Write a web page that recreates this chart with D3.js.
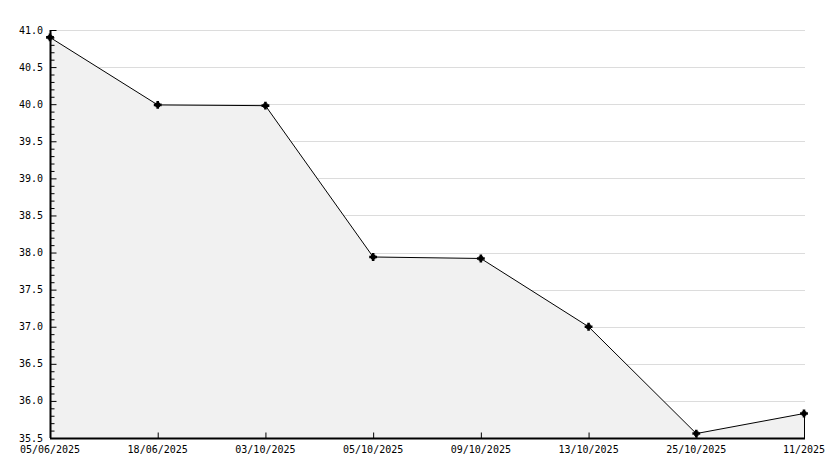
<!DOCTYPE html>
<html>
<head>
<meta charset="utf-8">
<script src="https://cdn.jsdelivr.net/npm/d3@7"></script>
<style>
  body { margin: 0; background: #fff; }
  text { font-family: "DejaVu Sans Mono", monospace; font-size: 10px; fill: #000; }
</style>
</head>
<body>
<div id="chart"></div>
<script>
// data
const dates = ["05/06/2025", "18/06/2025", "03/10/2025", "05/10/2025", "09/10/2025", "13/10/2025", "25/10/2025", "11/2025"];
const values = [40.9, 39.99, 39.98, 37.94, 37.92, 37.0, 35.56, 35.83];
const yTicks = [35.5, 36.0, 36.5, 37.0, 37.5, 38.0, 38.5, 39.0, 39.5, 40.0, 40.5, 41.0];

const width = 834, height = 468;
const margin = {top: 30, right: 29, bottom: 30, left: 50};

let svg = d3.select("#chart").append("svg")
    .attr("width", width)
    .attr("height", height);

let x = d3.scalePoint()
    .domain(dates)
    .range([margin.left, width - margin.right - 1]);

let y = d3.scaleLinear()
    .domain([35.5, 41.0])
    .range([height - margin.bottom, margin.top]);

let data = dates.map((d, i) => ({date: d, value: values[i]}));

// grid
svg.append("g")
    .selectAll("line")
    .data(yTicks.slice(1))
    .enter()
    .append("line")
    .attr("x1", margin.left)
    .attr("x2", width - margin.right)
    .attr("y1", d => Math.round(y(d)) + 0.5)
    .attr("y2", d => Math.round(y(d)) + 0.5)
    .attr("stroke", "#dcdcdc")
    .attr("stroke-width", 1);

// area
let area = d3.area()
    .x(d => x(d.date))
    .y0(y(35.5))
    .y1(d => y(d.value));

svg.append("path")
    .datum(data)
    .attr("d", area)
    .attr("fill", "#f1f1f1")
    .attr("stroke", "none");

// right edge of the area
svg.append("line")
    .attr("x1", x(dates[dates.length - 1]) + 0.5)
    .attr("x2", x(dates[dates.length - 1]) + 0.5)
    .attr("y1", y(values[values.length - 1]))
    .attr("y2", y(35.5))
    .attr("stroke", "#000");

// line
let line = d3.line()
    .x(d => x(d.date))
    .y(d => y(d.value));

svg.append("path")
    .datum(data)
    .attr("d", line)
    .attr("fill", "none")
    .attr("stroke", "#000")
    .attr("stroke-width", 1);

// markers (small star-ish blobs)
let markers = svg.append("g")
    .selectAll("g")
    .data(data)
    .enter()
    .append("g")
    .attr("transform", d => `translate(${x(d.date)},${y(d.value)})`);

markers.append("path")
    .attr("d", d3.symbol().type(d3.symbolSquare).size(20))
    .attr("fill", "#000");
markers.append("path")
    .attr("d", d3.symbol().type(d3.symbolCross).size(34))
    .attr("fill", "#000");

// y axis
let yAxis = d3.axisRight(y)
    .tickValues(d3.range(355, 411, 1).map(v => v / 10))
    .tickSize(4)
    .tickFormat("");

let yg = svg.append("g")
    .attr("transform", `translate(${margin.left + 0.5},0)`)
    .call(yAxis);
yg.select(".domain").attr("stroke", "#000").attr("stroke-width", 2)
    .attr("d", `M0,${margin.top}V${height - margin.bottom}`);
yg.selectAll(".tick line").attr("stroke", "#000").attr("stroke-width", 1)
    .attr("x2", d => (Math.round(d * 10) % 5 === 0) ? 6 : 4);

svg.append("g")
    .selectAll("text")
    .data(yTicks)
    .enter()
    .append("text")
    .attr("x", margin.left - 7)
    .attr("y", d => y(d))
    .attr("dy", "0.35em")
    .attr("text-anchor", "end")
    .text(d => d.toFixed(1));

// x axis
let xAxis = d3.axisTop(x)
    .tickSize(6)
    .tickFormat("");

let xg = svg.append("g")
    .attr("transform", `translate(0,${height - margin.bottom + 0.5})`)
    .call(xAxis);
xg.select(".domain").attr("stroke", "#000").attr("stroke-width", 2)
    .attr("d", `M${margin.left},0H${x(dates[dates.length - 1]) + 1}`);
xg.selectAll(".tick line").attr("stroke", "#000");

svg.append("g")
    .selectAll("text")
    .data(dates)
    .enter()
    .append("text")
    .attr("x", d => x(d))
    .attr("y", height - margin.bottom + 15)
    .attr("text-anchor", "middle")
    .text(d => d);
</script>
</body>
</html>
